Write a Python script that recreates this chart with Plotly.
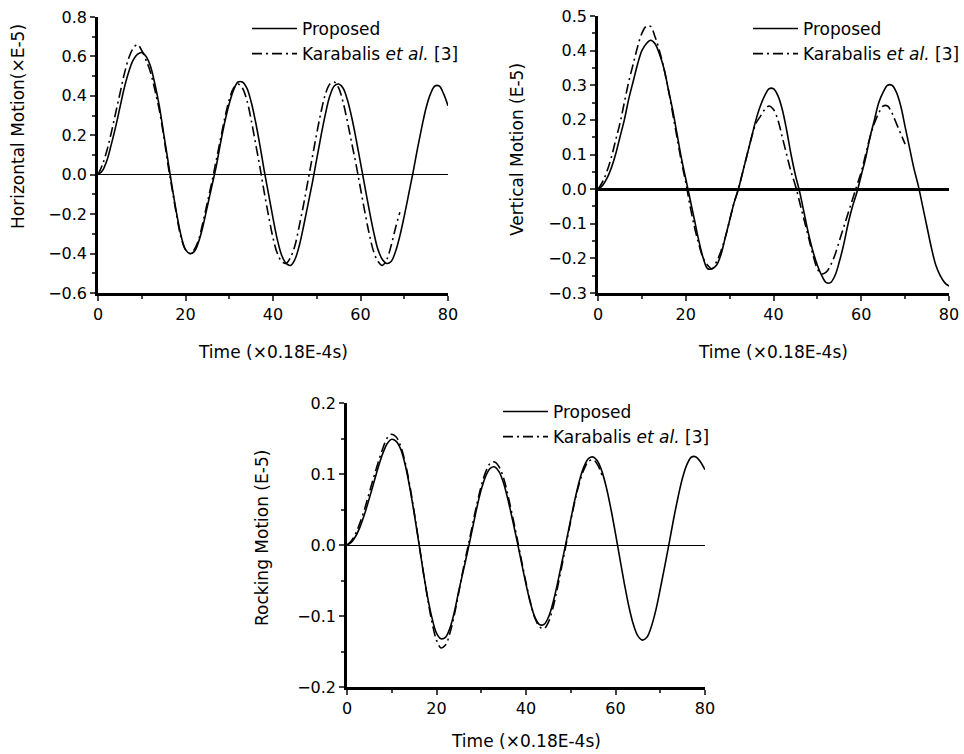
import plotly.graph_objects as go

# Time axis (units of 0.18E-4 s)
t_full = list(range(0, 81))

# Horizontal motion (x E-5)
h_proposed = [0.00, 0.02, 0.07, 0.15, 0.24, 0.34, 0.44, 0.52, 0.58, 0.61,
              0.62, 0.60, 0.55, 0.46, 0.35, 0.21, 0.07, -0.07, -0.20, -0.31,
              -0.38, -0.40, -0.39, -0.34, -0.26, -0.16, -0.06, 0.04, 0.16, 0.27,
              0.36, 0.43, 0.47, 0.47, 0.44, 0.37, 0.27, 0.15, 0.02, -0.10,
              -0.22, -0.33, -0.41, -0.45, -0.46, -0.43, -0.36, -0.26, -0.15, -0.04,
              0.08, 0.20, 0.31, 0.40, 0.45, 0.46, 0.44, 0.38, 0.29, 0.18,
              0.06, -0.06, -0.18, -0.29, -0.38, -0.43, -0.45, -0.44, -0.39, -0.31,
              -0.21, -0.10, 0.01, 0.13, 0.24, 0.34, 0.41, 0.45, 0.45, 0.41,
              0.35]
t_h_kar = list(range(0, 70))
h_karabalis = [0.00, 0.05, 0.12, 0.21, 0.31, 0.41, 0.51, 0.59, 0.64, 0.66,
               0.63, 0.58, 0.52, 0.43, 0.33, 0.20, 0.05, -0.08, -0.21, -0.32,
               -0.38, -0.40, -0.38, -0.33, -0.24, -0.14, -0.04, 0.07, 0.18, 0.29,
               0.38, 0.44, 0.46, 0.44, 0.38, 0.28, 0.16, 0.04, -0.09, -0.21,
               -0.32, -0.40, -0.44, -0.45, -0.42, -0.36, -0.26, -0.15, -0.03, 0.09,
               0.21, 0.32, 0.41, 0.46, 0.47, 0.44, 0.37, 0.27, 0.16, 0.05,
               -0.07, -0.19, -0.30, -0.39, -0.44, -0.46, -0.43, -0.36, -0.27, -0.19]

# Vertical motion (E-5)
v_proposed = [0.00, 0.01, 0.03, 0.06, 0.10, 0.15, 0.20, 0.26, 0.31, 0.36,
              0.40, 0.42, 0.43, 0.42, 0.39, 0.35, 0.29, 0.23, 0.16, 0.09,
              0.03, -0.03, -0.09, -0.15, -0.20, -0.23, -0.23, -0.22, -0.19, -0.14,
              -0.09, -0.04, 0.00, 0.05, 0.10, 0.15, 0.20, 0.24, 0.27, 0.29,
              0.29, 0.27, 0.23, 0.17, 0.10, 0.04, -0.01, -0.07, -0.13, -0.18,
              -0.22, -0.25, -0.27, -0.27, -0.25, -0.21, -0.16, -0.10, -0.05, -0.01,
              0.04, 0.09, 0.15, 0.20, 0.25, 0.28, 0.30, 0.30, 0.28, 0.24,
              0.18, 0.12, 0.06, 0.01, -0.05, -0.11, -0.17, -0.22, -0.25, -0.27,
              -0.28]
t_v_kar = list(range(0, 71))
v_karabalis = [0.00, 0.02, 0.05, 0.09, 0.14, 0.19, 0.25, 0.31, 0.36, 0.41,
               0.45, 0.47, 0.47, 0.44, 0.40, 0.35, 0.29, 0.22, 0.15, 0.08,
               0.02, -0.05, -0.11, -0.16, -0.20, -0.22, -0.23, -0.21, -0.18, -0.14,
               -0.09, -0.04, 0.00, 0.05, 0.10, 0.15, 0.19, 0.21, 0.23, 0.24,
               0.23, 0.20, 0.15, 0.10, 0.05, 0.01, -0.04, -0.09, -0.14, -0.19,
               -0.23, -0.245, -0.24, -0.22, -0.19, -0.15, -0.11, -0.07, -0.03, 0.01,
               0.05, 0.10, 0.15, 0.19, 0.22, 0.24, 0.24, 0.22, 0.19, 0.16,
               0.13]

# Rocking motion (E-5)
r_proposed = [0.000, 0.004, 0.013, 0.027, 0.045, 0.066, 0.088, 0.110, 0.129, 0.143,
              0.149, 0.146, 0.135, 0.113, 0.082, 0.045, 0.005, -0.036, -0.073, -0.103,
              -0.124, -0.132, -0.130, -0.117, -0.094, -0.064, -0.036, -0.008, 0.022, 0.052,
              0.078, 0.097, 0.108, 0.110, 0.103, 0.087, 0.063, 0.035, 0.006, -0.025,
              -0.055, -0.082, -0.102, -0.112, -0.112, -0.102, -0.082, -0.055, -0.025, 0.005,
              0.036, 0.066, 0.092, 0.111, 0.122, 0.124, 0.118, 0.103, 0.080, 0.050,
              0.016, -0.020, -0.055, -0.087, -0.112, -0.128, -0.134, -0.130, -0.115, -0.092,
              -0.062, -0.030, 0.003, 0.037, 0.068, 0.095, 0.114, 0.124, 0.124, 0.117,
              0.106]
t_r_kar = list(range(0, 58))
r_karabalis = [0.000, 0.006, 0.017, 0.033, 0.052, 0.074, 0.096, 0.117, 0.136, 0.151,
               0.156, 0.152, 0.139, 0.116, 0.085, 0.047, 0.006, -0.036, -0.075, -0.109,
               -0.134, -0.145, -0.141, -0.124, -0.098, -0.066, -0.033, -0.003, 0.027, 0.057,
               0.083, 0.103, 0.115, 0.117, 0.110, 0.094, 0.069, 0.040, 0.010, -0.022,
               -0.053, -0.081, -0.103, -0.115, -0.118, -0.109, -0.089, -0.061, -0.030, 0.002,
               0.034, 0.064, 0.089, 0.107, 0.118, 0.120, 0.113, 0.098]

x_ticks = [0, 20, 40, 60, 80]
x_title = "Time (×0.18E-4s)"
y_titles = ["Horizontal Motion(×E-5)", "Vertical Motion (E-5)", "Rocking Motion (E-5)"]
names = ["Proposed", "Karabalis <i>et al.</i> [3]"]

W, H = 964, 754
FONT = "DejaVu Sans"
DASHDOT = "10px,4px,2px,4px"


def fx(px):
    return px / W


def fy(py):
    return 1 - py / H


fig = go.Figure()

panels = [
    # (x-axis id, y-axis id, legend id, t, proposed, t, Karabalis)
    ("x", "y", "legend", t_full, h_proposed, t_h_kar, h_karabalis),
    ("x2", "y2", "legend2", t_full, v_proposed, t_v_kar, v_karabalis),
    ("x3", "y3", "legend3", t_full, r_proposed, t_r_kar, r_karabalis),
]

for xa, ya, lg, tp, vp, tk, vk in panels:
    fig.add_trace(go.Scatter(x=tp, y=vp, mode="lines", name=names[0],
                             line=dict(color="black", width=1.6, shape="spline"),
                             xaxis=xa, yaxis=ya, legend=lg))
    fig.add_trace(go.Scatter(x=tk, y=vk, mode="lines", name=names[1],
                             line=dict(color="black", width=1.6, dash=DASHDOT, shape="spline"),
                             xaxis=xa, yaxis=ya, legend=lg))

tickfont = dict(family=FONT, size=16, color="black")


def xaxis_cfg(x0, x1, anchor):
    return dict(domain=[fx(x0), fx(x1)], anchor=anchor, range=[0, 80],
                tickvals=x_ticks, ticks="outside", ticklen=5, tickwidth=2,
                minor=dict(dtick=10, ticks="outside", ticklen=3, tickwidth=2),
                showline=True, linewidth=2.5, linecolor="black",
                showgrid=False, zeroline=False, tickfont=tickfont)


def yaxis_cfg(y_top, y_bot, anchor, rng, dtick, minor, zw):
    return dict(domain=[fy(y_bot), fy(y_top)], anchor=anchor, range=rng,
                dtick=dtick, tick0=0, tickformat=".1f",
                ticks="outside", ticklen=5, tickwidth=2,
                minor=dict(dtick=minor, ticks="outside", ticklen=3, tickwidth=2),
                showline=True, linewidth=2.5, linecolor="black",
                showgrid=False, zeroline=True, zerolinecolor="black",
                zerolinewidth=zw, tickfont=tickfont)


legend_font = dict(family=FONT, size=17, color="black")


def legend_cfg(x_px, y_px):
    return dict(x=fx(x_px), y=fy(y_px), xanchor="left", yanchor="top",
                bgcolor="rgba(0,0,0,0)", font=legend_font, itemwidth=45,
                tracegroupgap=0)


fig.update_layout(
    width=W, height=H,
    margin=dict(l=0, r=0, t=0, b=0, autoexpand=False),
    paper_bgcolor="white", plot_bgcolor="white",
    showlegend=True,
    xaxis=xaxis_cfg(98, 448, "y"),
    yaxis=yaxis_cfg(17, 293, "x", [-0.6, 0.8], 0.2, 0.1, 1),
    xaxis2=xaxis_cfg(598, 949, "y2"),
    yaxis2=yaxis_cfg(16, 293, "x2", [-0.3, 0.5], 0.1, 0.05, 2.5),
    xaxis3=xaxis_cfg(347, 705, "y3"),
    yaxis3=yaxis_cfg(403, 687, "x3", [-0.2, 0.2], 0.1, 0.05, 1.2),
    legend=legend_cfg(247, 11),
    legend2=legend_cfg(748, 11),
    legend3=legend_cfg(498, 394),
)

title_font = dict(family=FONT, size=17, color="black")
annotations = [
    (273, 352, x_title, 0),
    (773, 352, x_title, 0),
    (526, 741, x_title, 0),
    (18, 127, y_titles[0], -90),
    (517, 150, y_titles[1], -90),
    (262, 538, y_titles[2], -90),
]
for ax, ay, txt, ang in annotations:
    fig.add_annotation(x=fx(ax), y=fy(ay), xref="paper", yref="paper",
                       text=txt, showarrow=False, textangle=ang,
                       xanchor="center", yanchor="middle", font=title_font)

fig.write_html("out.html")
